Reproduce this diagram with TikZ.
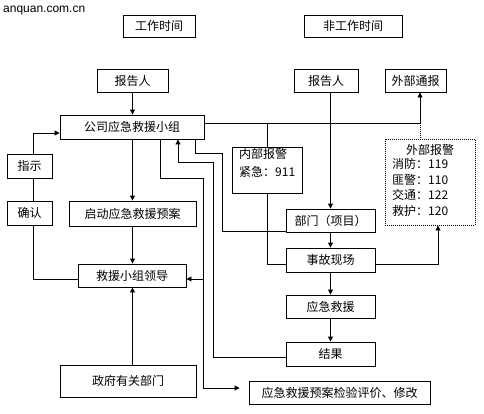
\documentclass[tikz,border=0pt]{standalone}
\usepackage{fontspec}
\setmainfont{Noto Sans CJK SC}
\newfontfamily\latinsans{Liberation Sans}
\usetikzlibrary{arrows.meta}
\newcommand\mkbox[7][]{\node[box,#1,minimum width={(#5-#3)*1pt},minimum height={(#6-#4)*1pt}] (#2) at ({(#3+#5)/2},{(#4+#6)/2}) {#7};}
\begin{document}
\begin{tikzpicture}[x=1pt,y=-1pt,
  box/.style={draw,line width=0.9pt,inner sep=0pt,font=\fontsize{12}{15}\selectfont},
  txt/.style={inner sep=0pt,font=\fontsize{12}{15}\selectfont},
  conn/.style={line width=0.9pt},
  arr/.style={conn,-{Triangle[length=5pt,width=5pt]}},
  dotbox/.style={dash pattern=on 1pt off 1pt}]
\useasboundingbox (0,0) rectangle (484,413);
\node[anchor=base west,inner sep=0pt,font=\latinsans\fontsize{12}{14}\selectfont] (wm) at (3,12.5) {anquan.com.cn};
\mkbox{work}{123}{15}{195}{37}{工作时间}
\mkbox{nonwork}{304}{15}{402}{37}{非工作时间}
\mkbox{rep1}{97}{69}{168}{92}{报告人}
\mkbox{rep2}{294}{69}{358}{92}{报告人}
\mkbox{extn}{385}{69}{446}{92}{外部通报}
\mkbox{comp}{60}{115}{204}{139}{公司应急救援小组}
\mkbox{zhishi}{7}{154}{52}{178}{指示}
\mkbox{queren}{7}{201}{52}{225}{确认}
\mkbox{qidong}{69}{201}{196}{226}{启动应急救援预案}
\mkbox{leader}{78}{264}{186}{287}{救援小组领导}
\mkbox{inner}{232}{147}{302}{193}{}
\node[txt,anchor=north west,align=left,font=\fontsize{12}{18}\selectfont] (innertxt) at (239,148.5) {内部报警\\紧急：911};
\mkbox[dotbox]{extal}{385}{139}{475}{225}{}
\node[txt,anchor=north] (extaltitle) at (430,144) {外部报警};
\node[txt,anchor=north west,align=left,font=\fontsize{12}{15.5}\selectfont] (extaltxt) at (392,158.5) {消防：119\\匪警：110\\交通：122\\救护：120};
\mkbox{dept}{286}{209}{375}{232}{部门（项目）}
\mkbox{scene}{286}{248}{375}{272}{事故现场}
\mkbox{rescue}{286}{295}{375}{318}{应急救援}
\mkbox{result}{286}{342}{375}{366}{结果}
\mkbox{gov}{60}{365}{196}{397}{政府有关部门}
\mkbox{review}{249}{381}{430}{404}{应急救援预案检验评价、修改}
% left column
\draw[arr] (rep1.south) -- (rep1.south |- comp.north);
\draw[arr] (comp.south -| rep1.south) -- (qidong.north -| rep1.south);
\draw[arr] (qidong.south -| rep1.south) -- (leader.north -| rep1.south);
\draw[arr] (gov.north -| rep1.south) -- (leader.south -| rep1.south);
% feedback loop on the left
\draw[conn] (leader.west |- 0,279) -- (33,279) -- (33,0 |- queren.south);
\draw[conn] (33,0 |- queren.north) -- (33,0 |- zhishi.south);
\draw[arr] (33,0 |- zhishi.north) -- (33,133) -- (comp.west |- 0,133);
% right side
\draw[arr] (comp.east |- 0,123) -- (420,123) -- (420,0 |- extn.south);
\draw[conn] (inner.north |- 0,123) -- (inner.north);
\draw[conn,dotbox] (420,123) -- (420,0 |- extal.north);
\draw[arr] (dept.north |- rep2.south) -- (dept.north);
\draw[arr] (dept.south) -- (scene.north);
\draw[arr] (scene.south) -- (rescue.north);
\draw[arr] (rescue.south) -- (result.north);
\draw[conn] (inner.south) -- (inner.south |- 0,264) -- (scene.west |- 0,264);
\draw[arr] (scene.east |- 0,264) -- (438,264) -- (438,0 |- extal.south);
% lines from the company group
\draw[arr] (comp.south -| 160,0) -- (160,178) -- (203,178) -- (203,388) -- ([xshift=-9pt]review.west |- 0,388);
\draw[arr] (203,279) -- (leader.east |- 0,279);
\draw[conn] (comp.south -| 195,0) -- (195,153) -- (222,153) -- (222,231.5) -- (dept.south west |- 0,231.5);
\draw[arr] (result.west |- 0,357) -- (213,357) -- (213,162) -- (178,162) -- (comp.south -| 178,0);
\end{tikzpicture}
\end{document}
